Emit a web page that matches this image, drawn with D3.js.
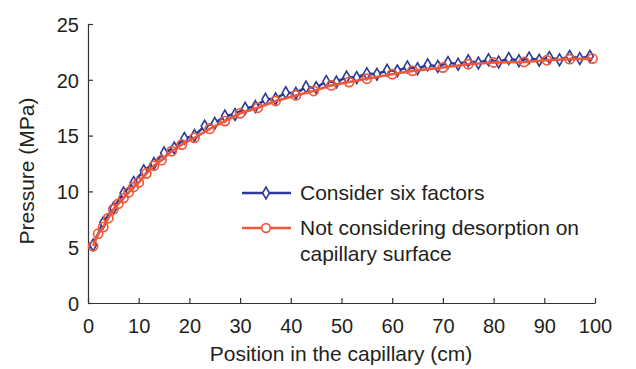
<!DOCTYPE html>
<html><head><meta charset="utf-8">
<script src="https://cdn.jsdelivr.net/npm/d3@7"></script>
<style>body{margin:0;background:#fff}svg{display:block}text{font-family:"Liberation Sans",Arial,sans-serif;fill:#231f20}</style>
</head><body><svg id="c" width="636" height="369"></svg>
<script>
const xTicks = [0,10,20,30,40,50,60,70,80,90,100];
const yTicks = [0,5,10,15,20,25];
const blueX = [1,3,5,7,9,11,13,15,17,19,21,23,25,27,29,31,33,35,37,39,41,43,45,47,49,51,53,55,57,59,61,63,65,67,69,71,73,75,77,79,81,83,85,87,89,91,93,95,97,99];
const blueY = [5.2,7.2,8.5,9.85,10.8,11.85,12.5,13.45,13.9,14.75,15.0,15.85,16.1,16.75,16.9,17.45,17.6,18.25,18.3,18.85,18.8,19.35,19.3,19.85,19.8,20.25,20.2,20.55,20.5,20.85,20.8,21.15,21.0,21.35,21.2,21.55,21.4,21.7,21.5,21.8,21.6,21.9,21.7,21.95,21.75,22.0,21.8,22.1,21.9,22.1];
const orangeX = [1,2,3,4,5,6,7,8,9,10,11.5,13,14.5,16.5,18.5,21,24,27,30,33.5,37,41,44.5,48,51.5,55,60,64,70,75,80,86,90.5,95,99.5];
const orangeY = [5.1,6.2,6.8,7.6,8.4,8.9,9.4,9.9,10.4,10.8,11.6,12.3,12.8,13.6,14.2,14.8,15.6,16.3,17.0,17.5,18.1,18.6,19.0,19.5,19.8,20.1,20.5,20.8,21.1,21.4,21.55,21.6,21.75,21.85,21.9];
const seriesNames = ["Consider six factors","Not considering desorption on","capillary surface"];
const blue = "#2b3a96", orange = "#f0583a";

const svg = d3.select("#c");
const x = d3.scaleLinear().domain([0,100]).range([88,595]);
const y = d3.scaleLinear().domain([0,25]).range([303,24]);

const xa = svg.append("g").attr("transform","translate(0,303)")
  .call(d3.axisBottom(x).tickValues(xTicks).tickSizeInner(-5).tickSizeOuter(0).tickPadding(16));
const ya = svg.append("g").attr("transform","translate(88,0)")
  .call(d3.axisLeft(y).tickValues(yTicks).tickSizeInner(-5).tickSizeOuter(0).tickPadding(9));
[xa,ya].forEach(a=>{
  a.selectAll("path,line").attr("stroke","#333").attr("stroke-width",1.2);
  a.selectAll("text").attr("font-size",20).attr("fill","#231f20").style("font-family","'Liberation Sans',Arial,sans-serif");
});
ya.selectAll(".tick text").attr("dy","0.36em");

const bPts = blueX.map((v,i)=>[v,blueY[i]]);
const oPts = orangeX.map((v,i)=>[v,orangeY[i]]);
const line = d3.line().x(d=>x(d[0])).y(d=>y(d[1]));

const diamond = d3.symbol().type(d3.symbolDiamond).size(40);

svg.append("path").attr("d",line(bPts)).attr("fill","none").attr("stroke",blue).attr("stroke-width",2.6);
svg.append("g").selectAll("path").data(bPts).join("path")
  .attr("d",diamond).attr("transform",d=>`translate(${x(d[0])},${y(d[1])})`)
  .attr("fill","#fff").attr("stroke",blue).attr("stroke-width",1.6);
svg.append("path").attr("d",line(oPts)).attr("fill","none").attr("stroke",orange).attr("stroke-width",2.6);
svg.append("g").selectAll("circle").data(oPts).join("circle")
  .attr("cx",d=>x(d[0])).attr("cy",d=>y(d[1])).attr("r",4.6)
  .attr("fill","none").attr("stroke",orange).attr("stroke-width",1.7);

// legend
const lg = svg.append("g");
lg.append("line").attr("x1",242).attr("x2",291).attr("y1",193).attr("y2",193).attr("stroke",blue).attr("stroke-width",2.6);
lg.append("path").attr("d",diamond).attr("transform","translate(266,193)").attr("fill","#fff").attr("stroke",blue).attr("stroke-width",1.6);
lg.append("line").attr("x1",242).attr("x2",291).attr("y1",228).attr("y2",228).attr("stroke",orange).attr("stroke-width",2.6);
lg.append("circle").attr("cx",266).attr("cy",228).attr("r",4.3).attr("fill","#fff").attr("stroke",orange).attr("stroke-width",1.7);
lg.append("text").attr("x",300).attr("y",200).attr("font-size",21).text(seriesNames[0]);
lg.append("text").attr("x",300).attr("y",235).attr("font-size",21).text(seriesNames[1]);
lg.append("text").attr("x",300).attr("y",261).attr("font-size",21).text(seriesNames[2]);

svg.append("text").attr("x",341).attr("y",361).attr("text-anchor","middle").attr("font-size",21).text("Position in the capillary (cm)");
svg.append("text").attr("transform","translate(34,171) rotate(-90)").attr("text-anchor","middle").attr("font-size",21).text("Pressure (MPa)");
</script></body></html>
